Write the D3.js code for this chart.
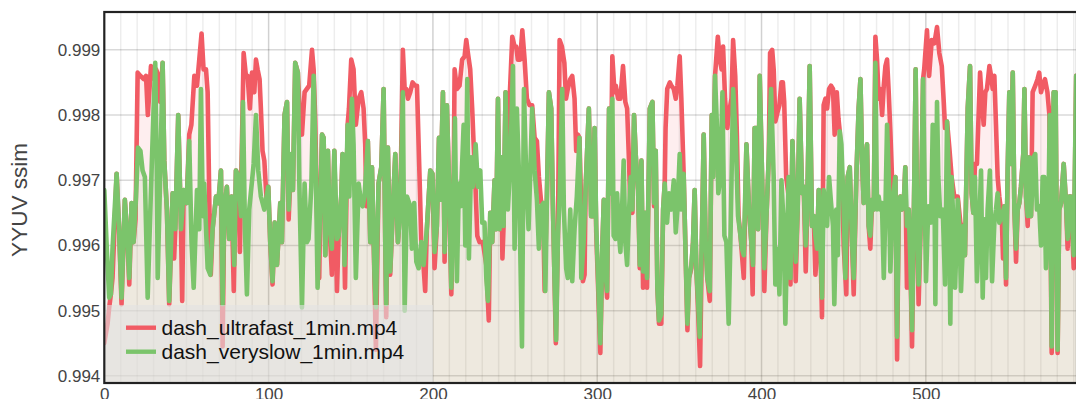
<!DOCTYPE html>
<html>
<head>
<meta charset="utf-8">
<script src="https://cdn.jsdelivr.net/npm/d3@7"></script>
<style>
  body { margin: 0; background: #fff; overflow: hidden; }
  svg { display: block; font-family: "Liberation Sans", Arial, sans-serif; }
</style>
</head>
<body>
<svg id="chart"></svg>
<script>
const seriesNames = ['dash_ultrafast_1min.mp4', 'dash_veryslow_1min.mp4'];
const seriesColors = ['#f15b64', '#7bc46b'];
const yLabel = 'YYUV ssim';
const xTickValues = [0, 100, 200, 300, 400, 500];
const yTickValues = [0.994, 0.995, 0.996, 0.997, 0.998, 0.999];

// frame numbers / ssim (peaks, troughs and plateaus)
const ultrafastFrames = [
  0, 2, 3, 4, 5, 7.5, 9, 10.5, 12.5, 14.2,
  15.2, 16.6, 17.8, 19, 20.3, 22, 24, 25.4, 26.5, 28.4,
  30.4, 31.5, 33, 34, 35.5, 36.5, 38.1, 39.5, 41.6, 42.5,
  43.2, 45, 46.7, 47.4, 48.3, 50.1, 51.7, 53, 54.8, 56.4,
  57.8, 59.2, 60.4, 61.9, 62.9, 64, 64.8, 65.9, 68, 69.4,
  71, 72, 73, 74.6, 76, 77.5, 78.8, 80.1, 81.7, 82.5,
  84.8, 86.2, 87.2, 88.6, 89.9, 91.3, 92.3, 93.3, 94.5, 95.3,
  96.3, 97.4, 99, 99.8, 101, 102.4, 103.7, 105.1, 107.1, 108.1,
  109.7, 111.2, 112.2, 113.8, 114.8, 116.2, 117.8, 119.3, 120.3, 121.9,
  123.3, 124.7, 126.4, 127.4, 128.4, 129.4, 130.8, 131.4, 132.5, 133.5,
  134.5, 136.1, 137.1, 138.5, 140, 141.6, 142.6, 144.2, 145, 146.5,
  148.1, 148.9, 150.3, 151.7, 153.1, 154.8, 156.4, 157.8, 158.8, 159.5,
  160.4, 161.9, 162.9, 164.5, 165.3, 166.9, 168.6, 170, 171, 171.6,
  172.6, 174, 176.1, 177.1, 178.7, 180.1, 181.7, 182.8, 183.8, 184.8,
  186.2, 187.6, 189.2, 190.3, 191.3, 192.3, 192.9, 194, 195.3, 196.3,
  198.4, 199.7, 201, 202.4, 203.7, 204.5, 206.1, 207.1, 208.5, 209.7,
  211.2, 212.6, 213.2, 214.6, 216.2, 217.8, 219.3, 220.3, 221.3, 222.7,
  223.9, 224.7, 226, 227, 228.4, 230.4, 232.5, 234, 234.9, 236.1,
  237.5, 238.5, 239.6, 240.6, 241.6, 242.3, 243, 244.2, 245.5, 246.7,
  248.3, 249.7, 250.7, 251.7, 253.1, 254.4, 255.8, 257.2, 258.8, 260.4,
  261.9, 263.3, 264.5, 265.9, 267, 268, 269.6, 270.6, 272, 273,
  274, 274.8, 276.1, 277.1, 278.5, 280, 281, 282.1, 283.6, 284.8,
  286.2, 287.2, 288.2, 289.2, 290.3, 291.3, 292.3, 292.9, 294.9, 296.3,
  297.4, 298.4, 299.4, 301.9, 303.2, 304, 305, 306, 307.2, 308.2,
  309.2, 310.5, 311.3, 312.7, 314.1, 315.7, 317.1, 318.2, 319.4, 320.2,
  321.4, 322.4, 323.4, 324.9, 325.9, 326.9, 327.9, 329.1, 330.3, 332,
  333.6, 334.6, 335.6, 336.6, 337.6, 339, 340.1, 341.1, 341.6, 342.6,
  344.2, 345.1, 346.6, 347.8, 348.8, 350.2, 351.2, 352.6, 353.9, 354.9,
  355.9, 357.3, 358.3, 359.3, 360.4, 361.4, 362.6, 364, 364.8, 366,
  367, 368.5, 369.7, 370.5, 371.7, 373.4, 374.6, 375.7, 376.6, 377.8,
  379.2, 380, 381.7, 382.7, 384, 385, 386, 387.2, 389.2, 390.8,
  392.4, 393.8, 394.6, 395.8, 396.9, 397.9, 398.9, 400.9, 401.7, 403,
  404.4, 405.2, 406.5, 407.4, 408.4, 409.8, 410.9, 412.1, 413, 413.8,
  415, 416.5, 417.6, 418.8, 420, 420.8, 422, 423.2, 424.7, 425.7,
  426.9, 427.7, 429.3, 430.7, 431.8, 432.8, 433.8, 434.8, 435.8, 436.8,
  437.8, 438.9, 439.9, 441.1, 442.3, 443.5, 444.5, 445.8, 446.8, 447.6,
  449, 450, 451.6, 452.4, 453.7, 455.1, 456.1, 457.7, 459.1, 460.2,
  461.2, 462.2, 463.2, 464.2, 465.2, 466.2, 467.3, 468.3, 469.3, 470.3,
  471.3, 472.3, 473.4, 474.4, 475.4, 476.4, 477.4, 478.4, 479.4, 480.4,
  481.5, 482.5, 483.5, 484.5, 485.5, 486.5, 487.5, 488.5, 489.6, 490.6,
  491.6, 493, 493.8, 494.6, 495.6, 497.1, 498.3, 499, 500.7, 502,
  503.6, 505.2, 506.8, 508.2, 509.7, 510.9, 511.7, 512.9, 514.3, 515.7,
  517.3, 518.6, 519.4, 521, 522.4, 523.8, 525.5, 526.9, 527.9, 528.9,
  529.9, 531.1, 533, 534, 535.2, 536.2, 537.2, 538.7, 539.7, 540.7,
  541.7, 542.7, 543.7, 544.7, 546.2, 547, 547.8, 548.8, 549.8, 550.8,
  551.8, 552.9, 553.9, 554.9, 555.9, 556.9, 557.9, 559.3, 560, 561,
  562, 563, 564, 565, 566.6, 568, 569, 570.1, 571.1, 572.5,
  574, 575.2, 576.6, 577.8, 579, 580.2, 581.2, 582.3, 583.9, 585.3,
  586.3, 587.3, 588.3, 590, 591.5
];
const ultrafastSsim = [
  0.9945, 0.9948, 0.99505, 0.99525, 0.9955, 0.9971, 0.99625, 0.9951, 0.9967, 0.99605,
  0.9954, 0.99665, 0.99605, 0.9964, 0.99865, 0.9986, 0.99855, 0.9986, 0.998, 0.99875,
  0.99855, 0.9987, 0.9986, 0.9982, 0.9988, 0.9973, 0.99655, 0.9951, 0.9968, 0.9958,
  0.99625, 0.998, 0.99625, 0.99515, 0.99685, 0.99665, 0.9977, 0.99785, 0.9986, 0.99845,
  0.99885, 0.99925, 0.9987, 0.9987, 0.99835, 0.99655, 0.99555, 0.99625, 0.99675, 0.99665,
  0.99715, 0.99445, 0.99655, 0.9969, 0.9961, 0.99675, 0.9953, 0.99715, 0.99705, 0.9959,
  0.99895, 0.9986, 0.9986, 0.9981, 0.99865, 0.99835, 0.99885, 0.9987, 0.99855, 0.9981,
  0.99745, 0.9973, 0.9966, 0.9969, 0.99605, 0.9954, 0.99635, 0.9957, 0.99665, 0.99605,
  0.998, 0.9982, 0.9964, 0.9974, 0.99685, 0.9988, 0.99865, 0.99785, 0.9977, 0.99835,
  0.9984, 0.99845, 0.999, 0.9987, 0.9979, 0.99655, 0.9955, 0.99655, 0.9977, 0.99765,
  0.99585, 0.99745, 0.9963, 0.99555, 0.99745, 0.9953, 0.99615, 0.99675, 0.9974, 0.99535,
  0.99785, 0.9981, 0.99885, 0.9987, 0.99785, 0.99825, 0.99835, 0.9981, 0.99755, 0.9966,
  0.9976, 0.99605, 0.9972, 0.9954, 0.9944, 0.99695, 0.9972, 0.9984, 0.99605, 0.9949,
  0.9975, 0.99555, 0.99685, 0.9974, 0.99605, 0.99655, 0.999, 0.9984, 0.9984, 0.99825,
  0.99835, 0.9985, 0.99845, 0.99845, 0.99755, 0.99665, 0.99605, 0.9958, 0.9953, 0.99625,
  0.99715, 0.9971, 0.99565, 0.9963, 0.99765, 0.9967, 0.99835, 0.99575, 0.99815, 0.99705,
  0.99525, 0.99695, 0.9987, 0.9984, 0.99845, 0.99885, 0.9989, 0.99915, 0.99895, 0.9987,
  0.9981, 0.9976, 0.99685, 0.99615, 0.99605, 0.99605, 0.9957, 0.99485, 0.9965, 0.99605,
  0.997, 0.99625, 0.99825, 0.99625, 0.99735, 0.9958, 0.9963, 0.99835, 0.9976, 0.99825,
  0.9992, 0.99905, 0.99905, 0.99885, 0.99885, 0.9993, 0.99885, 0.99825, 0.99815, 0.99815,
  0.99765, 0.9976, 0.99705, 0.99665, 0.99665, 0.9953, 0.99705, 0.99835, 0.9981, 0.99665,
  0.9955, 0.9945, 0.99615, 0.99915, 0.99905, 0.9988, 0.99825, 0.9984, 0.99855, 0.9986,
  0.99825, 0.99745, 0.9977, 0.99765, 0.99655, 0.99545, 0.99555, 0.99685, 0.9981, 0.99645,
  0.99645, 0.9978, 0.9962, 0.99435, 0.99605, 0.9967, 0.9956, 0.9952, 0.9981, 0.9968,
  0.9989, 0.99835, 0.99845, 0.99825, 0.99825, 0.99875, 0.9982, 0.9981, 0.99725, 0.99655,
  0.9965, 0.998, 0.9974, 0.99685, 0.99565, 0.9973, 0.99535, 0.9965, 0.99535, 0.9981,
  0.9982, 0.9966, 0.99745, 0.99535, 0.9948, 0.9948, 0.99655, 0.99695, 0.9978, 0.9984,
  0.9985, 0.99845, 0.9984, 0.99825, 0.99845, 0.9989, 0.99825, 0.9971, 0.99575, 0.9947,
  0.9955, 0.99565, 0.99605, 0.99685, 0.9956, 0.995, 0.99415, 0.99655, 0.9977, 0.99605,
  0.9955, 0.99515, 0.998, 0.99705, 0.9986, 0.9992, 0.99885, 0.9987, 0.99905, 0.99825,
  0.9978, 0.998, 0.99825, 0.99915, 0.9986, 0.9977, 0.99645, 0.99615, 0.9955, 0.99755,
  0.99655, 0.99605, 0.99525, 0.9978, 0.9978, 0.99625, 0.9986, 0.99645, 0.9953, 0.99645,
  0.99735, 0.99895, 0.999, 0.9987, 0.9979, 0.99805, 0.99815, 0.9985, 0.9985, 0.9982,
  0.99705, 0.99675, 0.9954, 0.9976, 0.99655, 0.99545, 0.99655, 0.99825, 0.9968, 0.9969,
  0.9956, 0.99645, 0.99875, 0.9963, 0.99645, 0.99555, 0.99595, 0.99685, 0.99605, 0.9949,
  0.99815, 0.99825, 0.9981, 0.9984, 0.99845, 0.9984, 0.9977, 0.99835, 0.99795, 0.99775,
  0.99705, 0.996, 0.99525, 0.99705, 0.9972, 0.99605, 0.99525, 0.99705, 0.9981, 0.99855,
  0.9973, 0.99665, 0.9973, 0.99755, 0.9963, 0.99595, 0.9967, 0.99655, 0.9992, 0.99885,
  0.99825, 0.9984, 0.998, 0.99845, 0.99875, 0.99885, 0.99835, 0.99775, 0.99705, 0.99655,
  0.99705, 0.99425, 0.99655, 0.99675, 0.99655, 0.9966, 0.9972, 0.99535, 0.99655, 0.99575,
  0.99445, 0.99705, 0.9987, 0.99655, 0.9951, 0.99655, 0.99855, 0.9987, 0.9993, 0.9986,
  0.99915, 0.9991, 0.99935, 0.99895, 0.99875, 0.9982, 0.9978, 0.9979, 0.9975, 0.99705,
  0.99675, 0.99675, 0.99675, 0.99635, 0.99625, 0.99585, 0.9981, 0.99875, 0.9968, 0.9965,
  0.99725, 0.99725, 0.99865, 0.99825, 0.99785, 0.99835, 0.9984, 0.99875, 0.9986, 0.9984,
  0.9986, 0.99785, 0.99705, 0.99675, 0.99645, 0.9958, 0.9966, 0.9954, 0.99715, 0.99835,
  0.99725, 0.99865, 0.99655, 0.99575, 0.99655, 0.99665, 0.9969, 0.9974, 0.9984, 0.99675,
  0.9963, 0.99735, 0.99645, 0.99835, 0.99845, 0.99855, 0.99865, 0.99835, 0.99845, 0.99855,
  0.99835, 0.998, 0.99435, 0.99835, 0.99835, 0.99435, 0.99655, 0.99665, 0.99725, 0.99665,
  0.99595, 0.99675, 0.99675, 0.99565, 0.9986
];

const veryslowFrames = [
  0, 1.6, 3, 4, 5, 7.5, 9, 10.5, 12.5, 14.2,
  15.2, 16.6, 17.8, 19.3, 20.5, 22, 23.3, 24.7, 26.4, 28.4,
  30, 31, 32, 32.5, 34, 35.5, 36.5, 38.1, 39.5, 41.6,
  43.2, 45, 46.7, 48.3, 50.1, 51.7, 53.1, 54.4, 56.4, 57.8,
  58.8, 60, 60.8, 62.9, 64.5, 65.9, 68, 69.4, 71, 72,
  73, 74.6, 76, 77.5, 79.1, 80.1, 81.7, 83.2, 84.4, 85.6,
  86.8, 88.2, 90.9, 92.3, 93.7, 95.3, 97.4, 99.8, 101, 102.4,
  103.7, 105.1, 107.1, 108.1, 109.7, 111.2, 112.2, 113.8, 114.8, 116.2,
  117.8, 118.7, 120.3, 121.9, 123.3, 124.3, 126, 127.4, 128.8, 129.8,
  131.4, 132.5, 133.5, 134.5, 136.1, 137.1, 138.5, 140, 141.6, 142.6,
  144.2, 145, 146.2, 148.1, 149.1, 150.7, 151.7, 153.1, 154.8, 155.8,
  157.2, 158.4, 160.4, 161.9, 162.9, 164.5, 165.3, 166.9, 168.6, 170,
  171, 171.6, 172.6, 174, 176.1, 177.1, 178.7, 180.1, 181.7, 182.8,
  184.2, 186.2, 187.2, 188.6, 189.9, 191.3, 192.9, 194.3, 196.3, 198.4,
  199.7, 201, 202.4, 203.7, 204.5, 206.1, 207.1, 208.5, 209.7, 211.2,
  212.6, 213.4, 214.6, 215.8, 216.8, 218.7, 219.7, 220.9, 221.9, 223.3,
  224.3, 226, 227.4, 228.8, 230, 231.4, 232.5, 233.5, 234.9, 236.1,
  237.5, 238.5, 239.6, 240.6, 241.6, 243, 244.2, 245.6, 247.1, 248.7,
  249.7, 251.1, 252.3, 254.2, 255.4, 256.8, 258.2, 260.4, 261.9, 263.3,
  264.5, 265.9, 267.3, 268.4, 269.6, 270.6, 272, 273, 274, 275,
  276.1, 277.1, 278.7, 279.7, 281.1, 282.1, 283.6, 284.8, 286.2, 287.6,
  289.2, 290.3, 291.7, 292.9, 294.9, 296.3, 297.4, 298.4, 299.4, 301.9,
  303.2, 304, 305, 306, 307.2, 308.2, 309.2, 310, 311.1, 312.1,
  313.3, 314.1, 315.1, 316.1, 317.1, 318.2, 319.4, 320.4, 321.4, 322.4,
  323.4, 324.9, 325.9, 326.9, 327.9, 329.1, 330.3, 332, 333.6, 334.6,
  335.6, 336.6, 337.6, 339, 340.1, 341.1, 342.5, 343.7, 345.1, 346.6,
  347.8, 348.8, 350.2, 351.2, 352.6, 353.9, 354.9, 355.9, 357.3, 358.3,
  359.3, 360.4, 361.4, 362.4, 364, 364.8, 366, 367, 368.5, 369.7,
  370.5, 371.7, 372.9, 373.7, 375, 376.2, 377.4, 378.6, 380, 381.2,
  382.7, 384.3, 385.7, 386.7, 388.1, 389.2, 390.8, 392.4, 393.8, 394.8,
  395.8, 396.9, 397.9, 398.9, 400.9, 401.7, 403, 404.4, 405.8, 407.4,
  408.4, 409.8, 410.9, 412.1, 413.5, 414.5, 415.5, 416.5, 417.6, 418.8,
  420, 420.8, 422, 423.2, 424.7, 425.7, 426.9, 427.7, 429.3, 430.7,
  431.8, 432.8, 433.8, 434.8, 435.8, 436.8, 437.8, 438.9, 439.9, 441.1,
  442.3, 443.5, 444.3, 445.5, 446.4, 447.6, 448.6, 450, 451, 452.4,
  453.7, 455.1, 456.1, 457.7, 459.1, 460.2, 461.2, 462.2, 463.2, 464.2,
  465.2, 466.2, 467.3, 468.3, 469.3, 470.3, 471.3, 472.3, 473.3, 474.4,
  475.4, 476.4, 477.4, 478.4, 480, 481.5, 482.5, 483.5, 484.5, 485.5,
  486.5, 487.5, 488.5, 489.6, 490.6, 491.6, 493, 493.8, 494.6, 495.6,
  497.1, 498.3, 500.1, 501.5, 503.2, 504.2, 505.2, 505.8, 506.8, 507.6,
  508.8, 510.3, 511.7, 512.9, 513.9, 514.9, 515.7, 516.3, 517.8, 519.4,
  520.4, 521.4, 523, 523.8, 525.5, 526.9, 527.9, 528.9, 529.9, 531.1,
  532.6, 533.6, 534.6, 535.6, 536.6, 537.6, 539, 540.3, 541.7, 542.7,
  543.7, 544.7, 546.2, 547.8, 548.8, 549.8, 550.8, 551.8, 552.9, 553.9,
  554.9, 555.9, 556.9, 557.9, 559.3, 560, 561, 562, 563, 564,
  565.6, 566.6, 567.6, 569, 570.1, 571.1, 572.1, 573.1, 574.6, 575.4,
  576.6, 577.8, 579, 580.2, 581.2, 582.3, 583.9, 585.3, 586.3, 587.3,
  588.3, 590, 591.5
];
const veryslowSsim = [
  0.99685, 0.9959, 0.9952, 0.99525, 0.99595, 0.9971, 0.99625, 0.9952, 0.9967, 0.99605,
  0.9955, 0.99665, 0.99605, 0.99675, 0.9975, 0.99745, 0.99715, 0.99705, 0.9952, 0.99685,
  0.9981, 0.9988, 0.99705, 0.9955, 0.99705, 0.9988, 0.9973, 0.99655, 0.99515, 0.9968,
  0.99625, 0.998, 0.99625, 0.99685, 0.99665, 0.9976, 0.99605, 0.99535, 0.99685, 0.99625,
  0.9984, 0.99645, 0.99695, 0.99565, 0.99555, 0.99625, 0.99675, 0.99665, 0.99715, 0.9951,
  0.99655, 0.9969, 0.9961, 0.99675, 0.9957, 0.99715, 0.99705, 0.99645, 0.9982, 0.99625,
  0.99525, 0.99655, 0.99725, 0.998, 0.99715, 0.99675, 0.99655, 0.9969, 0.99605, 0.99545,
  0.99635, 0.9957, 0.99665, 0.99605, 0.998, 0.9982, 0.99655, 0.9974, 0.99685, 0.9988,
  0.99865, 0.99695, 0.99505, 0.99695, 0.99605, 0.9961, 0.9969, 0.9986, 0.99705, 0.99535,
  0.99655, 0.9977, 0.99765, 0.99585, 0.99745, 0.9963, 0.99595, 0.99745, 0.9961, 0.99615,
  0.99675, 0.9974, 0.9957, 0.99785, 0.99675, 0.99825, 0.99755, 0.9955, 0.99695, 0.99675,
  0.9966, 0.99675, 0.9976, 0.99605, 0.9972, 0.9955, 0.99505, 0.99695, 0.9972, 0.9984,
  0.99605, 0.9951, 0.9975, 0.9956, 0.99685, 0.9974, 0.99605, 0.99655, 0.99835, 0.995,
  0.99675, 0.9966, 0.99595, 0.99665, 0.99575, 0.99565, 0.99605, 0.9957, 0.99625, 0.99715,
  0.9971, 0.9959, 0.9963, 0.99765, 0.9967, 0.99835, 0.9959, 0.99815, 0.99705, 0.99535,
  0.99695, 0.99795, 0.99545, 0.99695, 0.9966, 0.99785, 0.996, 0.99855, 0.9958, 0.99735,
  0.9969, 0.99755, 0.9969, 0.99715, 0.99635, 0.99635, 0.9955, 0.99515, 0.9965, 0.99605,
  0.997, 0.99625, 0.99825, 0.99625, 0.99735, 0.9963, 0.99835, 0.99655, 0.99725, 0.99875,
  0.99595, 0.9981, 0.99715, 0.99445, 0.9984, 0.99705, 0.99625, 0.9981, 0.99715, 0.9967,
  0.99595, 0.9966, 0.99665, 0.9953, 0.99705, 0.99835, 0.9981, 0.99665, 0.9955, 0.99455,
  0.99615, 0.99675, 0.9984, 0.99655, 0.99565, 0.9955, 0.99655, 0.99545, 0.99625, 0.99675,
  0.99765, 0.9955, 0.99605, 0.99685, 0.9981, 0.99645, 0.99645, 0.9978, 0.9963, 0.9945,
  0.99605, 0.9967, 0.9956, 0.9953, 0.9981, 0.9968, 0.99825, 0.99615, 0.9961, 0.9968,
  0.99615, 0.9959, 0.99655, 0.9973, 0.99605, 0.9957, 0.99655, 0.99705, 0.99655, 0.998,
  0.9974, 0.99685, 0.9957, 0.9973, 0.9956, 0.9965, 0.9955, 0.9981, 0.9982, 0.99665,
  0.99745, 0.99535, 0.99485, 0.99495, 0.99655, 0.99695, 0.99635, 0.9968, 0.99655, 0.997,
  0.9962, 0.99655, 0.9974, 0.99655, 0.9971, 0.99575, 0.9948, 0.9955, 0.9957, 0.99605,
  0.99685, 0.9956, 0.99515, 0.9946, 0.99655, 0.9977, 0.99605, 0.9955, 0.9953, 0.998,
  0.99705, 0.9986, 0.9978, 0.9968, 0.99705, 0.99835, 0.99615, 0.99605, 0.9948, 0.99625,
  0.9984, 0.99765, 0.99645, 0.99625, 0.99595, 0.99585, 0.99755, 0.99655, 0.99605, 0.9957,
  0.9978, 0.9978, 0.99625, 0.9986, 0.99645, 0.99565, 0.99645, 0.99735, 0.9984, 0.99705,
  0.9954, 0.99595, 0.99525, 0.997, 0.9963, 0.9948, 0.99605, 0.99705, 0.9955, 0.9976,
  0.99655, 0.99575, 0.99655, 0.99825, 0.9968, 0.9969, 0.996, 0.99645, 0.99875, 0.9963,
  0.99645, 0.99615, 0.99595, 0.99685, 0.99605, 0.9952, 0.99685, 0.99655, 0.9963, 0.99705,
  0.99665, 0.9963, 0.9951, 0.99655, 0.99585, 0.99775, 0.99755, 0.99655, 0.9955, 0.99705,
  0.9972, 0.99605, 0.9955, 0.99705, 0.9981, 0.99855, 0.9973, 0.99665, 0.9973, 0.99755,
  0.9963, 0.99615, 0.9967, 0.99655, 0.9988, 0.99655, 0.99675, 0.99655, 0.99665, 0.9955,
  0.99655, 0.99785, 0.99705, 0.9956, 0.99675, 0.99705, 0.9946, 0.99655, 0.99675, 0.99655,
  0.9966, 0.9972, 0.9963, 0.99655, 0.99575, 0.9947, 0.99705, 0.9987, 0.99655, 0.9954,
  0.99655, 0.99855, 0.99545, 0.9966, 0.99635, 0.99785, 0.99705, 0.9951, 0.9982, 0.99705,
  0.99645, 0.99655, 0.9954, 0.9979, 0.99705, 0.9948, 0.99705, 0.99665, 0.99535, 0.9967,
  0.9963, 0.9953, 0.9963, 0.99585, 0.9981, 0.99875, 0.9968, 0.9965, 0.99705, 0.99545,
  0.9964, 0.99715, 0.9952, 0.9964, 0.9955, 0.99655, 0.99715, 0.99545, 0.99635, 0.99655,
  0.9968, 0.99635, 0.99645, 0.9966, 0.9955, 0.99715, 0.99835, 0.99725, 0.99865, 0.99655,
  0.99595, 0.99655, 0.99665, 0.9969, 0.9974, 0.9984, 0.99675, 0.99645, 0.99735, 0.99645,
  0.99735, 0.9974, 0.99655, 0.9966, 0.996, 0.99705, 0.99705, 0.99565, 0.99655, 0.998,
  0.99445, 0.99835, 0.99835, 0.9944, 0.99655, 0.99665, 0.99725, 0.99665, 0.9961, 0.99675,
  0.99675, 0.99585, 0.9986
];

const width = 1076, height = 399;
const plotLeft = 104.3, plotRight = 1077, plotTop = 12, plotBottom = 383;

const x = d3.scaleLinear().domain([0, 592]).range([plotLeft, plotRight]);
const y = d3.scaleLinear().domain([0.99389, 0.99958]).range([plotBottom, plotTop]);

const svg = d3.select('#chart').attr('width', width).attr('height', height);

svg.append('defs').append('clipPath').attr('id', 'plot-clip')
  .append('rect')
  .attr('x', plotLeft).attr('y', plotTop)
  .attr('width', plotRight - plotLeft).attr('height', plotBottom - plotTop);

// grid
const grid = svg.append('g');
grid.selectAll('line.minor').data(x.ticks(60).filter(d => d % 100 !== 0)).join('line')
  .attr('class', 'minor')
  .attr('x1', d => x(d)).attr('x2', d => x(d))
  .attr('y1', plotTop).attr('y2', plotBottom)
  .attr('stroke', 'rgba(0,0,0,0.07)').attr('stroke-width', 1.5);
grid.selectAll('line.major-x').data(xTickValues.slice(1)).join('line')
  .attr('class', 'major-x')
  .attr('x1', d => x(d)).attr('x2', d => x(d))
  .attr('y1', plotTop).attr('y2', plotBottom)
  .attr('stroke', 'rgba(0,0,0,0.18)').attr('stroke-width', 1.5);
grid.selectAll('line.major-y').data(yTickValues).join('line')
  .attr('class', 'major-y')
  .attr('x1', plotLeft).attr('x2', plotRight)
  .attr('y1', d => y(d)).attr('y2', d => y(d))
  .attr('stroke', 'rgba(0,0,0,0.15)').attr('stroke-width', 1.5);

const series = [
  { name: seriesNames[0], color: seriesColors[0], fill: 'rgba(241,91,100,0.1)',
    points: ultrafastFrames.map((f, i) => [f, ultrafastSsim[i]]) },
  { name: seriesNames[1], color: seriesColors[1], fill: 'rgba(123,196,107,0.12)',
    points: veryslowFrames.map((f, i) => [f, veryslowSsim[i]]) }
];

const area = d3.area().x(d => x(d[0])).y0(plotBottom).y1(d => y(d[1]));
const line = d3.line().x(d => x(d[0])).y(d => y(d[1]));

const plot = svg.append('g').attr('clip-path', 'url(#plot-clip)');
series.forEach(s => {
  plot.append('path').attr('d', area(s.points)).attr('fill', s.fill);
});
series.forEach(s => {
  plot.append('path').attr('d', line(s.points))
    .attr('fill', 'none')
    .attr('stroke', s.color)
    .attr('stroke-width', 4.6)
    .attr('stroke-linejoin', 'round')
    .attr('stroke-linecap', 'round');
});

// legend
const legend = svg.append('g');
legend.append('rect')
  .attr('x', plotLeft).attr('y', 305)
  .attr('width', 433 - plotLeft).attr('height', plotBottom - 305)
  .attr('fill', 'rgba(226,226,226,0.6)');
series.forEach((s, i) => {
  const ly = 327.7 + i * 24;
  legend.append('line')
    .attr('x1', 126).attr('x2', 156).attr('y1', ly).attr('y2', ly)
    .attr('stroke', s.color).attr('stroke-width', 4.4);
  legend.append('text')
    .attr('x', 161.5).attr('y', ly + 7.5)
    .attr('font-size', 21).attr('fill', '#111')
    .text(s.name);
});

// frame
svg.append('rect')
  .attr('x', plotLeft).attr('y', plotTop)
  .attr('width', plotRight - plotLeft).attr('height', plotBottom - plotTop)
  .attr('fill', 'none').attr('stroke', '#222').attr('stroke-width', 2.2);

// axes
const yAxis = svg.append('g')
  .attr('transform', `translate(${plotLeft},0)`)
  .call(d3.axisLeft(y).tickValues(yTickValues).tickFormat(d3.format('.3f')).tickSize(0).tickPadding(4));
const xAxis = svg.append('g')
  .attr('transform', `translate(0,${plotBottom})`)
  .call(d3.axisBottom(x).tickValues(xTickValues).tickFormat(d3.format('d')).tickSize(0).tickPadding(5));
[yAxis, xAxis].forEach(a => {
  a.select('.domain').remove();
  a.selectAll('text').attr('font-size', 17).attr('fill', '#444')
    .attr('font-family', '"Liberation Sans", Arial, sans-serif');
});

svg.append('text')
  .attr('transform', 'translate(27,200) rotate(-90)')
  .attr('text-anchor', 'middle')
  .attr('font-size', 22.5).attr('fill', '#444')
  .text(yLabel);
</script>
</body>
</html>
